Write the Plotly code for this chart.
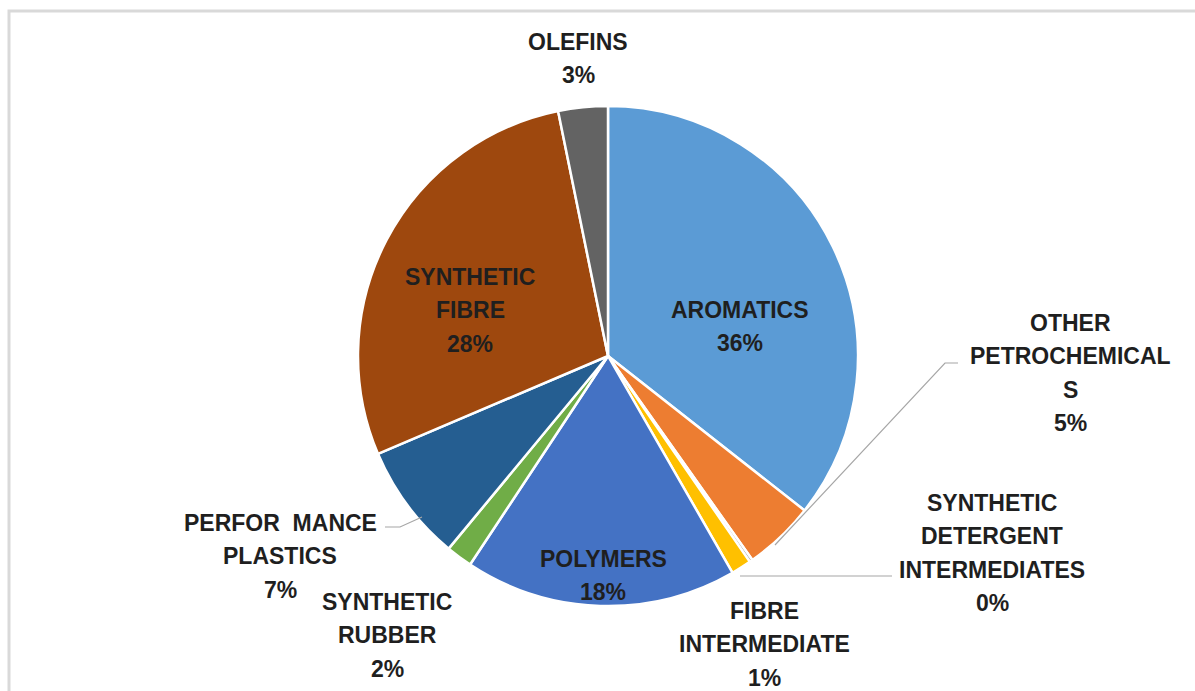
import plotly.graph_objects as go

W, H = 1195, 691

categories = ["AROMATICS", "OTHER PETROCHEMICALS", "SYNTHETIC DETERGENT INTERMEDIATES",
              "FIBRE INTERMEDIATE", "POLYMERS", "SYNTHETIC RUBBER",
              "PERFORMANCE PLASTICS", "SYNTHETIC FIBRE", "OLEFINS"]
values = [35.6, 4.6, 0.2, 1.3, 17.6, 1.7, 7.6, 28.2, 3.2]
display_lines = [["AROMATICS"], ["OTHER", "PETROCHEMICAL", "S"],
                 ["SYNTHETIC", "DETERGENT", "INTERMEDIATES"],
                 ["FIBRE", "INTERMEDIATE"], ["POLYMERS"], ["SYNTHETIC", "RUBBER"],
                 ["PERFOR  MANCE", "PLASTICS"], ["SYNTHETIC", "FIBRE"], ["OLEFINS"]]
pct_labels = ["36%", "5%", "0%", "1%", "18%", "2%", "7%", "28%", "3%"]
colors = ["#5B9BD5", "#ED7D31", "#A5A5A5", "#FFC000", "#4472C4", "#70AD47",
          "#255E91", "#9E480E", "#636363"]

# label anchor: (centre x, first-line y) in pixels, top-left origin
label_pos = [(740, 310), (1070, 323), (992, 503), (765, 611), (603, 559),
             (387, 602), (280, 523), (470, 277), (578, 42)]
LINE_GAP = 33.4

FONT = "Liberation Sans, Arial, sans-serif"


def px(x):
    return x / W


def py(y):
    return 1 - y / H


cx, cy, r = 608, 356, 250

fig = go.Figure()
fig.add_trace(go.Pie(
    labels=categories,
    values=values,
    sort=False,
    direction="clockwise",
    rotation=0,
    marker=dict(colors=colors, line=dict(color="white", width=2.5)),
    textinfo="none",
    hoverinfo="label+percent",
    showlegend=False,
    domain=dict(x=[px(cx - r), px(cx + r)], y=[py(cy + r), py(cy - r)]),
))

for lines, pct, (x, y0) in zip(display_lines, pct_labels, label_pos):
    for i, line in enumerate(lines + [pct]):
        fig.add_annotation(
            x=px(x), y=py(y0 + i * LINE_GAP), xref="paper", yref="paper",
            text=f"<b>{line}</b>", showarrow=False,
            xanchor="center", yanchor="middle", align="center",
            font=dict(family=FONT, size=23, color="#1F1F1F"),
        )

leader_color = "#A6A6A6"
leaders = [
    [(775, 545), (945, 363), (958, 363)],
    [(740, 576), (892, 576)],
    [(422, 517), (400, 527), (385, 527)],
]
shapes = []
for pts in leaders:
    path = "M " + " L ".join(f"{px(a)},{py(b)}" for a, b in pts)
    shapes.append(dict(type="path", xref="paper", yref="paper", path=path,
                       line=dict(color=leader_color, width=1.2)))
shapes.append(dict(type="rect", xref="paper", yref="paper",
                   x0=px(9), y0=py(705), x1=px(1210), y1=py(11),
                   line=dict(color="#D9D9D9", width=3)))

fig.update_layout(
    width=W, height=H,
    margin=dict(l=0, r=0, t=0, b=0),
    paper_bgcolor="white", plot_bgcolor="white",
    shapes=shapes,
)

fig.write_html("out.html",
               config={"displayModeBar": False},
               post_script="document.body.style.margin='0';document.body.style.overflow='hidden';")
